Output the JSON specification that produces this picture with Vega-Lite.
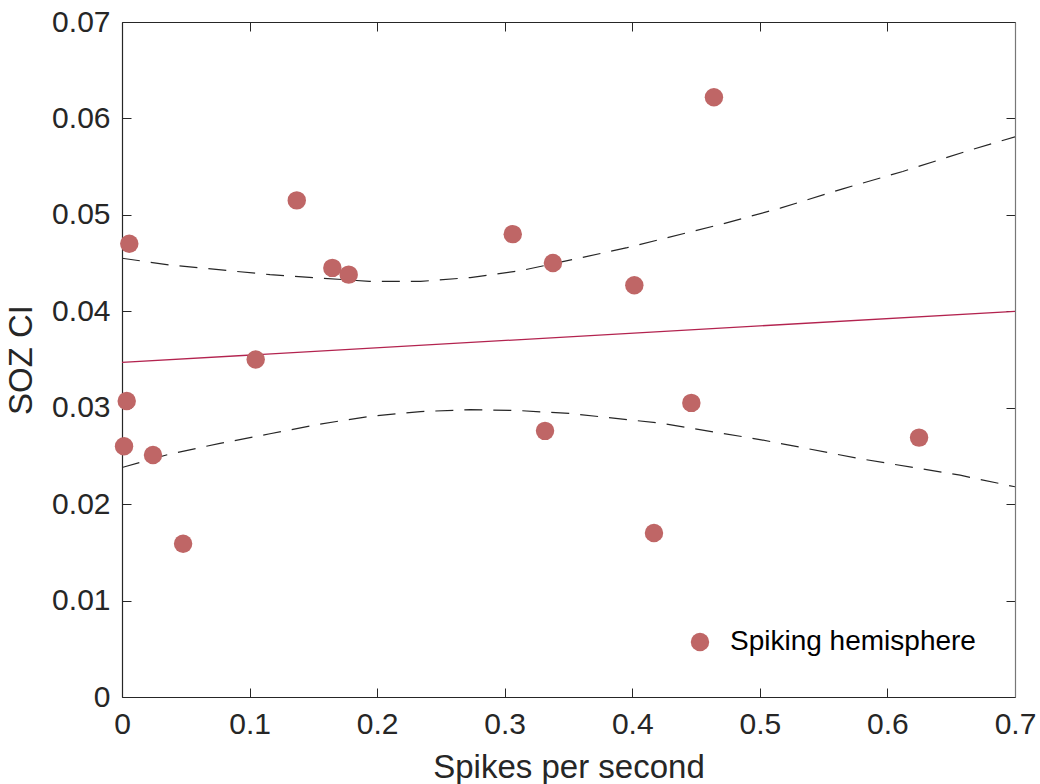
{
  "$schema": "https://vega.github.io/schema/vega-lite/v6.json",
  "width": 893,
  "height": 675,
  "autosize": "none",
  "padding": {"left": 122, "top": 22, "right": 25, "bottom": 87},
  "background": "white",
  "config": {
    "view": {"stroke": null},
    "font": "Liberation Sans",
    "axis": {
      "grid": false,
      "tickSize": -9,
      "tickColor": "#262626",
      "tickWidth": 1,
      "domainColor": "#262626",
      "domainWidth": 1.2,
      "labelColor": "#262626",
      "labelFontSize": 30,
      "labelFont": "Liberation Sans",
      "labelFlush": false,
      "titleFont": "Liberation Sans",
      "titleFontSize": 33,
      "titleFontWeight": "normal",
      "titleColor": "#262626"
    }
  },
  "datasets": {
    "pts": [
      {"rate": 0.0057, "ci": 0.0470, "series": "Spiking hemisphere"},
      {"rate": 0.137, "ci": 0.0515, "series": "Spiking hemisphere"},
      {"rate": 0.1649, "ci": 0.0445, "series": "Spiking hemisphere"},
      {"rate": 0.1777, "ci": 0.0438, "series": "Spiking hemisphere"},
      {"rate": 0.3063, "ci": 0.0480, "series": "Spiking hemisphere"},
      {"rate": 0.3378, "ci": 0.0450, "series": "Spiking hemisphere"},
      {"rate": 0.1048, "ci": 0.0350, "series": "Spiking hemisphere"},
      {"rate": 0.0037, "ci": 0.0307, "series": "Spiking hemisphere"},
      {"rate": 0.0016, "ci": 0.0260, "series": "Spiking hemisphere"},
      {"rate": 0.0243, "ci": 0.0251, "series": "Spiking hemisphere"},
      {"rate": 0.0479, "ci": 0.0159, "series": "Spiking hemisphere"},
      {"rate": 0.3316, "ci": 0.0276, "series": "Spiking hemisphere"},
      {"rate": 0.4463, "ci": 0.0305, "series": "Spiking hemisphere"},
      {"rate": 0.6248, "ci": 0.0269, "series": "Spiking hemisphere"},
      {"rate": 0.4016, "ci": 0.0427, "series": "Spiking hemisphere"},
      {"rate": 0.464, "ci": 0.0622, "series": "Spiking hemisphere"},
      {"rate": 0.417, "ci": 0.0170, "series": "Spiking hemisphere"}
    ],
    "fit": [
      {"rate": 0, "ci": 0.0347},
      {"rate": 0.7, "ci": 0.0400}
    ],
    "bounds": [
      {"rate": 0, "ci": 0.0455, "bound": "upper"},
      {"rate": 0.0376, "ci": 0.0448, "bound": "upper"},
      {"rate": 0.116, "ci": 0.0438, "bound": "upper"},
      {"rate": 0.194, "ci": 0.0431, "bound": "upper"},
      {"rate": 0.234, "ci": 0.0431, "bound": "upper"},
      {"rate": 0.273, "ci": 0.0435, "bound": "upper"},
      {"rate": 0.312, "ci": 0.0442, "bound": "upper"},
      {"rate": 0.351, "ci": 0.0453, "bound": "upper"},
      {"rate": 0.396, "ci": 0.0466, "bound": "upper"},
      {"rate": 0.469, "ci": 0.0490, "bound": "upper"},
      {"rate": 0.516, "ci": 0.0507, "bound": "upper"},
      {"rate": 0.565, "ci": 0.0527, "bound": "upper"},
      {"rate": 0.612, "ci": 0.0545, "bound": "upper"},
      {"rate": 0.662, "ci": 0.0566, "bound": "upper"},
      {"rate": 0.7, "ci": 0.0581, "bound": "upper"},
      {"rate": 0, "ci": 0.0238, "bound": "lower"},
      {"rate": 0.0376, "ci": 0.0252, "bound": "lower"},
      {"rate": 0.0768, "ci": 0.0263, "bound": "lower"},
      {"rate": 0.116, "ci": 0.0273, "bound": "lower"},
      {"rate": 0.155, "ci": 0.0283, "bound": "lower"},
      {"rate": 0.194, "ci": 0.0291, "bound": "lower"},
      {"rate": 0.234, "ci": 0.0296, "bound": "lower"},
      {"rate": 0.273, "ci": 0.0298, "bound": "lower"},
      {"rate": 0.312, "ci": 0.0297, "bound": "lower"},
      {"rate": 0.351, "ci": 0.0294, "bound": "lower"},
      {"rate": 0.422, "ci": 0.0284, "bound": "lower"},
      {"rate": 0.500, "ci": 0.0267, "bound": "lower"},
      {"rate": 0.579, "ci": 0.0247, "bound": "lower"},
      {"rate": 0.657, "ci": 0.0230, "bound": "lower"},
      {"rate": 0.7, "ci": 0.0218, "bound": "lower"}
    ]
  },
  "layer": [
    {
      "data": {"name": "bounds"},
      "mark": {"type": "line", "color": "#262626", "strokeWidth": 1.2, "strokeDash": [18, 11], "clip": true},
      "encoding": {
        "x": {"field": "rate", "type": "quantitative", "scale": {"domain": [0, 0.7], "nice": false, "zero": false},
              "axis": {"orient": "bottom", "values": [0, 0.1, 0.2, 0.3, 0.4, 0.5, 0.6, 0.7], "format": "~g", "title": "Spikes per second", "labelPadding": 21, "titlePadding": 12}},
        "y": {"field": "ci", "type": "quantitative", "scale": {"domain": [0, 0.07], "nice": false, "zero": false},
              "axis": {"orient": "left", "values": [0, 0.01, 0.02, 0.03, 0.04, 0.05, 0.06, 0.07], "format": "~g", "title": "SOZ CI", "labelPadding": 21, "titlePadding": 13}},
        "detail": {"field": "bound", "type": "nominal"}
      }
    },
    {
      "data": {"name": "fit"},
      "mark": {"type": "line", "color": "#b3234f", "strokeWidth": 1.3},
      "encoding": {
        "x": {"field": "rate", "type": "quantitative", "axis": null},
        "y": {"field": "ci", "type": "quantitative", "axis": null}
      }
    },
    {
      "data": {"name": "pts"},
      "mark": {"type": "point", "filled": true, "shape": "circle", "size": 340, "opacity": 1},
      "encoding": {
        "x": {"field": "rate", "type": "quantitative", "axis": null},
        "y": {"field": "ci", "type": "quantitative", "axis": null},
        "color": {"field": "series", "type": "nominal", "scale": {"range": ["#bf6666"]},
                  "legend": {"title": null, "orient": "none", "legendX": 564, "legendY": 606, "symbolSize": 340, "symbolType": "circle", "labelFontSize": 28, "labelFont": "Liberation Sans", "labelColor": "#000000", "labelOffset": 16, "labelLimit": 500, "symbolStrokeWidth": 0}}
      }
    },
    {
      "data": {"name": "fit"},
      "mark": {"type": "point", "opacity": 0},
      "encoding": {
        "x": {"field": "rate", "type": "quantitative",
              "axis": {"orient": "top", "values": [0, 0.1, 0.2, 0.3, 0.4, 0.5, 0.6, 0.7], "labels": false, "title": null}},
        "y": {"field": "ci", "type": "quantitative",
              "axis": {"orient": "right", "values": [0, 0.01, 0.02, 0.03, 0.04, 0.05, 0.06, 0.07], "labels": false, "title": null, "domainColor": "#777777"}}
      }
    }
  ],
  "resolve": {"axis": {"x": "independent", "y": "independent"}}
}
